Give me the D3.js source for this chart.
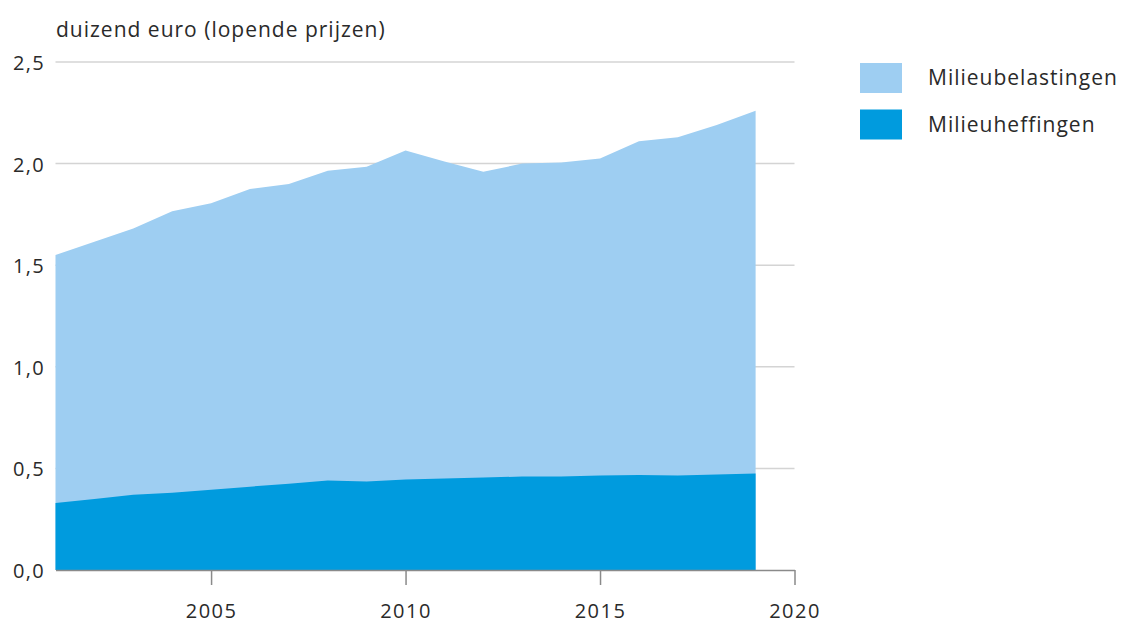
<!DOCTYPE html>
<html lang="nl">
<head>
	<meta charset="UTF-8">
	<title>Milieubelastingen en milieuheffingen</title>
	<script src="https://d3js.org/d3.v7.min.js"></script>
	<style>
		body { margin: 0; background: #fff; }
		text { font-family: "Open Sans", sans-serif; fill: #2a2a2a; }
	</style>
</head>
<body>

	<svg width="1123" height="623"></svg>

	<script>

		// data (duizend euro, lopende prijzen)
		var years = [2001, 2002, 2003, 2004, 2005, 2006, 2007, 2008, 2009, 2010,
			2011, 2012, 2013, 2014, 2015, 2016, 2017, 2018, 2019];

		var milieubelastingen = [1.55, 1.615, 1.68, 1.765, 1.805, 1.875, 1.9, 1.965, 1.985, 2.065,
			2.01, 1.96, 2.0, 2.005, 2.025, 2.11, 2.13, 2.19, 2.26];

		var milieuheffingen = [0.33, 0.35, 0.37, 0.38, 0.395, 0.41, 0.425, 0.44, 0.435, 0.445,
			0.45, 0.455, 0.46, 0.46, 0.465, 0.468, 0.465, 0.47, 0.475];

		var seriesNames = ["Milieubelastingen", "Milieuheffingen"];
		var xTicks = [2005, 2010, 2015, 2020];
		var yTicks = [0, 0.5, 1.0, 1.5, 2.0, 2.5];
		var yTitle = "duizend euro (lopende prijzen)";

		var colors = ["#9ecef2", "#009bde"];

		var svg = d3.select("svg");

		var x = d3.scaleLinear()
			.domain([2001, 2020])
			.range([55.5, 794.5]);

		var y = d3.scaleLinear()
			.domain([0, 2.5])
			.range([570, 62]);

		var nl = d3.formatLocale({ decimal: ",", thousands: ".", grouping: [3], currency: ["€", ""] });
		var fmt = nl.format(".1f");

		// gridlines
		svg.append("g")
			.selectAll("line")
			.data(yTicks.filter(function(d) { return d > 0; }))
			.enter()
			.append("line")
			.attr("x1", x(2001))
			.attr("x2", x(2020))
			.attr("y1", function(d) { return y(d); })
			.attr("y2", function(d) { return y(d); })
			.attr("stroke", "#d4d4d4")
			.attr("stroke-width", 1.5);

		// areas
		var rows = years.map(function(yr, i) {
			return { year: yr, top: milieubelastingen[i], bottom: milieuheffingen[i] };
		});

		var areaTop = d3.area()
			.x(function(d) { return x(d.year); })
			.y0(y(0))
			.y1(function(d) { return y(d.top); });

		var areaBottom = d3.area()
			.x(function(d) { return x(d.year); })
			.y0(y(0))
			.y1(function(d) { return y(d.bottom); });

		svg.append("path")
			.datum(rows)
			.attr("fill", colors[0])
			.attr("d", areaTop);

		svg.append("path")
			.datum(rows)
			.attr("fill", colors[1])
			.attr("d", areaBottom);

		// x axis
		var xAxis = svg.append("g")
			.attr("transform", "translate(0," + y(0) + ")")
			.call(d3.axisBottom(x)
				.tickValues(xTicks)
				.tickFormat(d3.format("d"))
				.tickSize(15)
				.tickSizeOuter(0)
				.tickPadding(19));

		xAxis.select(".domain").attr("stroke", "#8a8a8a").attr("stroke-width", 1.5);
		xAxis.selectAll(".tick line").attr("stroke", "#8a8a8a").attr("stroke-width", 1.5);
		xAxis.selectAll(".tick text")
			.style("font-family", "Open Sans, sans-serif")
			.style("font-size", "20px")
			.style("letter-spacing", "1.5px")
			.attr("fill", "#2a2a2a");

		// y labels
		svg.append("g")
			.selectAll("text")
			.data(yTicks)
			.enter()
			.append("text")
			.attr("x", 45)
			.attr("y", function(d) { return y(d) + 8; })
			.attr("text-anchor", "end")
			.style("font-size", "20px")
			.style("letter-spacing", "1.3px")
			.text(function(d) { return fmt(d); });

		// title
		svg.append("text")
			.attr("x", 56)
			.attr("y", 37)
			.style("font-size", "21px")
			.style("letter-spacing", "1px")
			.text(yTitle);

		// legend
		var legend = svg.selectAll(".legend")
			.data(seriesNames)
			.enter()
			.append("g")
			.attr("class", "legend")
			.attr("transform", function(d, i) {
				return "translate(860," + (63 + i * 46.5) + ")";
			});

		legend.append("rect")
			.attr("width", 42)
			.attr("height", 30)
			.attr("fill", function(d, i) { return colors[i]; });

		legend.append("text")
			.attr("x", 68)
			.attr("y", 22)
			.style("font-size", "21px")
			.style("letter-spacing", "1px")
			.text(function(d) { return d; });

	</script>

</body>
</html>
